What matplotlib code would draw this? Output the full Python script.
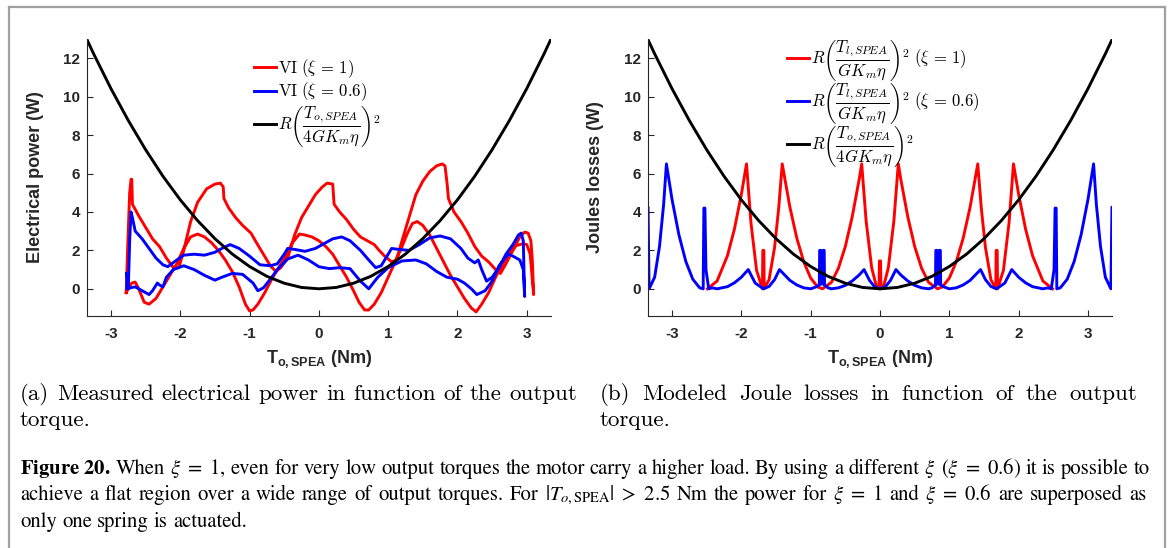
import matplotlib
matplotlib.use("Agg")
import matplotlib.pyplot as plt
from matplotlib.font_manager import FontProperties
from matplotlib.lines import Line2D

plt.rcParams['axes.unicode_minus'] = False
plt.rcParams['mathtext.fontset'] = 'custom'
plt.rcParams['mathtext.bf'] = 'Liberation Sans:bold'
plt.rcParams['mathtext.rm'] = 'Liberation Sans'
plt.rcParams['mathtext.it'] = 'Liberation Sans:italic'

# ---------------- data: (a) measured electrical power ----------------
red_fwd_x = [-2.78, -2.76, -2.73, -2.71, -2.70, -2.69, -2.60, -2.50, -2.40, -2.30, -2.20, -2.10, -2.02,
             -1.95, -1.85, -1.75, -1.62, -1.50, -1.42, -1.38, -1.37, -1.30, -1.20, -1.10, -0.98, -0.90,
             -0.80, -0.70, -0.62, -0.55, -0.45, -0.35, -0.25, -0.15, -0.05, 0.05, 0.12, 0.20, 0.21, 0.22,
             0.30, 0.40, 0.50, 0.60, 0.70, 0.80, 0.87, 0.95, 1.05, 1.12, 1.20, 1.30, 1.40, 1.50, 1.60,
             1.70, 1.78, 1.82, 1.85, 1.87, 1.95, 2.05, 2.15, 2.25, 2.35, 2.45, 2.55, 2.62, 2.70, 2.80,
             2.90, 2.97, 3.02, 3.06, 3.08, 3.10]
red_fwd_y = [-0.2, 2.0, 5.0, 5.7, 5.7, 4.4, 3.8, 3.2, 2.6, 2.2, 1.6, 1.1, 1.1,
             2.0, 3.5, 4.5, 5.2, 5.45, 5.5, 5.3, 4.7, 4.2, 3.7, 3.3, 2.9, 2.4,
             1.8, 1.2, 0.9, 1.1, 1.6, 2.8, 3.7, 4.3, 4.9, 5.3, 5.5, 5.45, 4.9, 4.4,
             4.0, 3.6, 3.1, 2.7, 2.5, 2.3, 2.0, 1.7, 1.4, 1.5, 2.5, 3.7, 4.9, 5.6, 6.1,
             6.4, 6.5, 6.4, 5.5, 4.7, 4.0, 3.5, 2.9, 2.2, 1.7, 1.4, 1.0, 0.8, 1.3, 2.0,
             2.7, 2.95, 2.9, 2.5, 1.5, -0.3]
red_back_x = [3.10, 3.08, 3.05, 3.00, 2.95, 2.85, 2.75, 2.65, 2.55, 2.45, 2.35, 2.27, 2.20, 2.10,
              2.00, 1.90, 1.80, 1.70, 1.60, 1.50, 1.42, 1.35, 1.28, 1.20, 1.10, 1.00, 0.90, 0.80,
              0.72, 0.66, 0.58, 0.50, 0.40, 0.30, 0.20, 0.10, 0.00, -0.10, -0.20, -0.28, -0.38,
              -0.48, -0.58, -0.68, -0.78, -0.88, -0.95, -1.00, -1.06, -1.15, -1.25, -1.35, -1.45,
              -1.55, -1.65, -1.75, -1.85, -1.95, -2.05, -2.15, -2.25, -2.35, -2.45, -2.52, -2.60,
              -2.65, -2.70, -2.75, -2.78]
red_back_y = [-0.3, 0.5, 1.8, 2.3, 2.35, 2.25, 1.9, 1.3, 0.6, -0.2, -0.8, -1.2, -1.0, -0.5,
              0.1, 0.7, 1.4, 2.1, 2.8, 3.3, 3.5, 3.4, 2.9, 2.2, 1.4, 0.6, -0.2, -0.8,
              -1.1, -1.1, -0.7, -0.1, 0.6, 1.2, 1.8, 2.2, 2.5, 2.7, 2.8, 2.85, 2.4,
              1.7, 1.1, 0.5, -0.2, -0.8, -1.1, -1.15, -0.8, 0.1, 0.9, 1.5, 2.0,
              2.4, 2.7, 2.85, 2.7, 2.1, 1.3, 0.7, 0.1, -0.5, -0.8, -0.7, 0.0,
              0.35, 0.3, 0.0, -0.2]
blue_fwd_x = [-2.77, -2.75, -2.73, -2.71, -2.69, -2.65, -2.55, -2.45, -2.35, -2.25, -2.18, -2.05,
              -1.95, -1.80, -1.65, -1.50, -1.40, -1.28, -1.15, -1.00, -0.85, -0.70, -0.60, -0.50,
              -0.45, -0.35, -0.20, -0.05, 0.05, 0.20, 0.33, 0.45, 0.60, 0.72, 0.82, 0.90, 1.00,
              1.05, 1.15, 1.30, 1.45, 1.60, 1.75, 1.90, 2.05, 2.15, 2.25, 2.30, 2.35, 2.42, 2.50,
              2.60, 2.70, 2.80, 2.88, 2.92, 2.95, 2.96, 2.97]
blue_fwd_y = [0.8, 0.0, 2.5, 4.0, 3.7, 3.0, 2.6, 2.1, 1.6, 1.25, 1.15, 1.5,
              1.75, 1.8, 1.75, 1.9, 2.1, 2.3, 2.1, 1.7, 1.25, 1.2, 1.3, 1.8,
              2.1, 2.05, 1.95, 2.1, 2.3, 2.6, 2.7, 2.5, 2.0, 1.5, 1.1, 1.2, 1.8,
              2.1, 2.05, 2.0, 2.3, 2.65, 2.75, 2.6, 2.1, 1.6, 1.35, 1.5, 1.0, 0.4, 0.6,
              1.1, 1.8, 2.3, 2.8, 2.9, 2.5, 1.0, -0.4]
blue_back_x = [2.97, 2.95, 2.90, 2.80, 2.73, 2.60, 2.50, 2.40, 2.28, 2.20, 2.10, 2.00, 1.85,
               1.70, 1.55, 1.40, 1.20, 1.00, 0.85, 0.72, 0.60, 0.45, 0.30, 0.15, 0.00, -0.15,
               -0.30, -0.45, -0.60, -0.70, -0.80, -0.88, -0.95, -1.10, -1.25, -1.40, -1.50,
               -1.65, -1.80, -1.95, -2.10, -2.20, -2.25, -2.30, -2.33, -2.40, -2.45, -2.55,
               -2.65, -2.72, -2.77, -2.77]
blue_back_y = [-0.4, 1.0, 1.5, 1.7, 1.8, 1.2, 0.4, -0.1, -0.3, 0.0, 0.3, 0.5, 0.6,
               0.9, 1.3, 1.5, 1.45, 1.1, 0.6, 0.0, 0.4, 1.05, 1.1, 1.05, 1.15, 1.5,
               1.75, 1.55, 1.0, 0.5, 0.05, -0.1, 0.3, 0.75, 0.8, 0.6, 0.45,
               0.7, 1.0, 1.2, 1.0, 0.6, 0.1, 0.2, 0.3, -0.1, -0.3, -0.1,
               0.1, 0.05, 0.0, 0.8]

# reference parabola R (T_o / 4 G Km eta)^2
par_x = [-3.35, -3.25, -3.0, -2.75, -2.5, -2.25, -2.0, -1.75, -1.5, -1.25, -1.0, -0.75, -0.5, -0.25,
         0.0, 0.25, 0.5, 0.75, 1.0, 1.25, 1.5, 1.75, 2.0, 2.25, 2.5, 2.75, 3.0, 3.25, 3.35]
par_y = [13.0, 12.23, 10.42, 8.76, 7.24, 5.86, 4.63, 3.55, 2.61, 1.81, 1.16, 0.65, 0.29, 0.07,
         0.0, 0.07, 0.29, 0.65, 1.16, 1.81, 2.61, 3.55, 4.63, 5.86, 7.24, 8.76, 10.42, 12.23, 13.0]

# ---------------- data: (b) modelled Joule losses ----------------
jr_x = [-2.49, -2.35, -2.20, -2.10, -2.00, -1.925, -1.86, -1.78, -1.695, -1.69, -1.675, -1.67, -1.60,
        -1.52, -1.46, -1.41, -1.30, -1.20, -1.10, -1.00, -0.90, -0.83, -0.70, -0.60, -0.50, -0.40,
        -0.30, -0.264, -0.20, -0.12, -0.05, -0.015, -0.008, 0.008, 0.015, 0.05, 0.12, 0.20, 0.264,
        0.30, 0.40, 0.50, 0.60, 0.70, 0.83, 0.90, 1.00, 1.10, 1.20, 1.30, 1.41, 1.46, 1.52, 1.60,
        1.67, 1.675, 1.69, 1.695, 1.78, 1.86, 1.925, 2.00, 2.10, 2.20, 2.35, 2.49]
jr_y = [0, 0.40, 1.72, 3.10, 4.90, 6.50, 3.40, 0.96, 0, 2.0, 2.0, 0, 0.47,
        2.16, 4.23, 6.50, 4.26, 2.64, 1.41, 0.56, 0.10, 0, 0.34, 1.07, 2.20, 3.76,
        5.70, 6.50, 3.53, 1.09, 0.10, 0, 1.45, 1.45, 0, 0.10, 1.09, 3.53, 6.50,
        5.70, 3.76, 2.20, 1.07, 0.34, 0, 0.10, 0.56, 1.41, 2.64, 4.26, 6.50, 4.23, 2.16, 0.47,
        0, 2.0, 2.0, 0, 0.96, 3.40, 6.50, 4.90, 3.10, 1.72, 0.40, 0]
jb_x = [-3.350, -3.345, -3.330, -3.250, -3.180, -3.120, -3.080, -3.000, -2.900, -2.800, -2.700,
        -2.600, -2.550, -2.540, -2.525, -2.510, -2.470, -2.420, -2.350, -2.200, -2.100, -2.000,
        -1.900, -1.800, -1.680, -1.600, -1.520, -1.450, -1.300, -1.200, -1.100, -1.000, -0.920,
        -0.875, -0.870, -0.855, -0.850, -0.825, -0.820, -0.805, -0.800, -0.750, -0.700, -0.600,
        -0.500, -0.400, -0.300, -0.230, -0.150, -0.080, 0.000,
        0.080, 0.150, 0.230, 0.300, 0.400, 0.500, 0.600, 0.700, 0.750, 0.800, 0.805, 0.820,
        0.825, 0.850, 0.855, 0.870, 0.875, 0.920, 1.000, 1.100, 1.200, 1.300, 1.450, 1.520,
        1.600, 1.680, 1.800, 1.900, 2.000, 2.100, 2.200, 2.350, 2.420, 2.470, 2.510, 2.525,
        2.540, 2.550, 2.600, 2.700, 2.800, 2.900, 3.000, 3.080, 3.120, 3.180, 3.250, 3.330,
        3.345, 3.350]
jb_y = [4.25, 4.25, 0.00, 0.60, 2.20, 4.40, 6.50, 4.67, 2.81, 1.42, 0.50,
        0.05, 0.00, 4.20, 4.20, 1.00, 0.00, 0.05, 0.00, 0.11, 0.31, 0.60,
        1.00, 0.30, 0.00, 0.12, 0.48, 1.00, 0.44, 0.20, 0.05, 0.00, 0.10,
        0.20, 2.00, 2.00, 0.25, 0.25, 2.00, 2.00, 0.20, 0.05, 0.00, 0.05,
        0.18, 0.41, 0.72, 1.00, 0.43, 0.12, 0.00,
        0.12, 0.43, 1.00, 0.72, 0.41, 0.18, 0.05, 0.00, 0.05, 0.20, 2.00, 2.00,
        0.25, 0.25, 2.00, 2.00, 0.20, 0.10, 0.00, 0.05, 0.20, 0.44, 1.00, 0.48,
        0.12, 0.00, 0.30, 1.00, 0.60, 0.31, 0.11, 0.00, 0.05, 0.00, 1.00, 4.20,
        4.20, 0.00, 0.05, 0.50, 1.42, 2.81, 4.67, 6.50, 4.40, 2.20, 0.60, 0.00,
        4.25, 4.25]

x_ticks = [-3, -2, -1, 0, 1, 2, 3]
y_ticks = [0, 2, 4, 6, 8, 10, 12]
x_lim = (-3.35, 3.35)
y_lim = (-1.4, 13)

leg_a = [r"$\mathrm{VI}\ (\xi\,=\,1)$", r"$\mathrm{VI}\ (\xi\,=\,0.6)$",
         r"$R\left(\dfrac{T_{o,SPEA}}{4GK_m\eta}\right)^2$"]
leg_b = [r"$R\left(\dfrac{T_{l,SPEA}}{GK_m\eta}\right)^2\ (\xi\,=\,1)$",
         r"$R\left(\dfrac{T_{l,SPEA}}{GK_m\eta}\right)^2\ (\xi\,=\,0.6)$",
         r"$R\left(\dfrac{T_{o,SPEA}}{4GK_m\eta}\right)^2$"]

cap_a = ["(a)", "Measured", "electrical", "power", "in", "function", "of", "the", "output"]
cap_b = ["(b)", "Modeled", "Joule", "losses", "in", "function", "of", "the", "output"]
cap_line1 = [r"$\mathbf{Figure\ 20.}$", "When", r"$\xi\ =\ 1$,", "even", "for", "very", "low", "output",
             "torques", "the", "motor", "carry", "a", "higher", "load.", "By", "using", "a", "different",
             r"$\xi$", r"($\xi\ =\ 0.6$)", "it", "is", "possible", "to"]
cap_line2 = ["achieve", "a", "flat", "region", "over", "a", "wide", "range", "of", "output", "torques.",
             "For", r"$|T_{o,\mathrm{SPEA}}|\ >\ 2.5$", "Nm", "the", "power", "for", r"$\xi\ =\ 1$",
             "and", r"$\xi\ =\ 0.6$", "are", "superposed", "as"]
cap_line3 = ["only", "one", "spring", "is", "actuated."]

# ---------------- figure ----------------
W, H = 1171, 548
fig = plt.figure(figsize=(W / 100, H / 100), dpi=100)
fig.patch.set_facecolor('white')

def px_axes(l, r, t, b):
    return fig.add_axes([l / W, 1 - b / H, (r - l) / W, (b - t) / H])

ax1 = px_axes(86.7, 551, 39, 315.7)
ax2 = px_axes(647.7, 1112.3, 39, 315.7)

dark = '#262626'
LW = 2.1
ax1.plot(red_fwd_x + red_back_x, red_fwd_y + red_back_y, color='#ff0000', lw=LW, solid_joinstyle='round')
ax1.plot(blue_fwd_x + blue_back_x, blue_fwd_y + blue_back_y, color='#0000ff', lw=LW, solid_joinstyle='round')
ax1.plot(par_x, par_y, color='black', lw=LW)

ax2.plot(jr_x, jr_y, color='#ff0000', lw=LW, solid_joinstyle='round')
ax2.plot(jb_x, jb_y, color='#0000ff', lw=LW, solid_joinstyle='round')
ax2.plot(par_x, par_y, color='black', lw=LW)

tickfont = FontProperties(family='Liberation Sans', weight='bold', size=11)
labelfont = FontProperties(family='Liberation Sans', weight='bold', size=13, math_fontfamily='custom')

for ax, ylab in ((ax1, "Electrical power (W)"), (ax2, "Joules losses (W)")):
    ax.set_xlim(*x_lim)
    ax.set_ylim(*y_lim)
    ax.spines['top'].set_visible(False)
    ax.spines['right'].set_visible(False)
    for s in ('left', 'bottom'):
        ax.spines[s].set_color(dark)
        ax.spines[s].set_linewidth(0.8)
    ax.set_xticks(x_ticks)
    ax.set_yticks(y_ticks)
    ax.set_xticklabels([str(v) for v in x_ticks])
    ax.set_yticklabels([str(v) for v in y_ticks])
    ax.tick_params(direction='in', length=4, width=0.8, color=dark, labelcolor=dark)
    ax.tick_params(axis='x', pad=8)
    ax.tick_params(axis='y', pad=5)
    for lab in ax.get_xticklabels() + ax.get_yticklabels():
        lab.set_fontproperties(tickfont)
    ax.set_ylabel(ylab, fontproperties=labelfont, color=dark)
    ax.set_xlabel(r"$\mathbf{T_{o,SPEA}}$ (Nm)", fontproperties=labelfont, color=dark)
    ax.xaxis.set_label_coords(0.5, -0.118)

ax1.yaxis.set_label_coords(-0.092, 0.5)
ax2.yaxis.set_label_coords(-0.094, 0.5)

legfont = FontProperties(family='cmr10', size=12, math_fontfamily='cm')
ax1.legend(ax1.get_lines(), leg_a, loc='upper left', bbox_to_anchor=(0.36, 0.935), frameon=False,
           prop=legfont, handlelength=1.35, handletextpad=0.12, labelspacing=0.05,
           borderpad=0, borderaxespad=0)
ax2.legend(ax2.get_lines(), leg_b, loc='upper left', bbox_to_anchor=(0.299, 1.005), frameon=False,
           prop=legfont, handlelength=1.35, handletextpad=0.12, labelspacing=-0.1,
           borderpad=0, borderaxespad=0)

# frame around the figure block
fr = dict(color='#a0a0a0', lw=1.6, transform=fig.transFigure)
fig.add_artist(Line2D([9 / W, 9 / W], [0, 1 - 7 / H], **fr))
fig.add_artist(Line2D([9 / W, 1165 / W], [1 - 7 / H, 1 - 7 / H], **fr))
fig.add_artist(Line2D([1165 / W, 1165 / W], [1 - 7 / H, 0], **fr))

renderer = fig.canvas.get_renderer()

def natural_size(tokens, target, base, **kw):
    t = fig.text(0, 0, " ".join(tokens), fontsize=base, **kw)
    w = t.get_window_extent(renderer).width
    t.remove()
    return base * target / w

def text_line(tokens, x0, y, size, x1=None, **kw):
    arts = [fig.text(0, 0, tok, fontsize=size, va='baseline', ha='left', **kw) for tok in tokens]
    ws = [a.get_window_extent(renderer).width for a in arts]
    if x1 is None or len(arts) < 2:
        gap = size * 100 / 72 * 0.25
    else:
        gap = (x1 - x0 - sum(ws)) / (len(arts) - 1)
    x = x0
    for a, w in zip(arts, ws):
        a.set_position((x / W, 1 - y / H))
        x += w + gap

sub_kw = dict(family='cmr10', color='black')
s_sub = natural_size(cap_a, 557, 14, **sub_kw)
text_line(cap_a, 20, 400, s_sub, 577, **sub_kw)
text_line(["torque."], 20, 426, s_sub, **sub_kw)
text_line(cap_b, 600, 400, s_sub, 1137, **sub_kw)
text_line(["torque."], 600, 426, s_sub, **sub_kw)

cap_kw = dict(family='STIXGeneral', math_fontfamily='stix', color='black')
s_cap = natural_size(cap_line1, 1130, 13, **cap_kw)
text_line(cap_line1, 20, 474, s_cap, 1150, **cap_kw)
text_line(cap_line2, 20, 500, s_cap, 1146, **cap_kw)
text_line(cap_line3, 20, 527, s_cap, **cap_kw)

fig.savefig("out.png", dpi=100)
